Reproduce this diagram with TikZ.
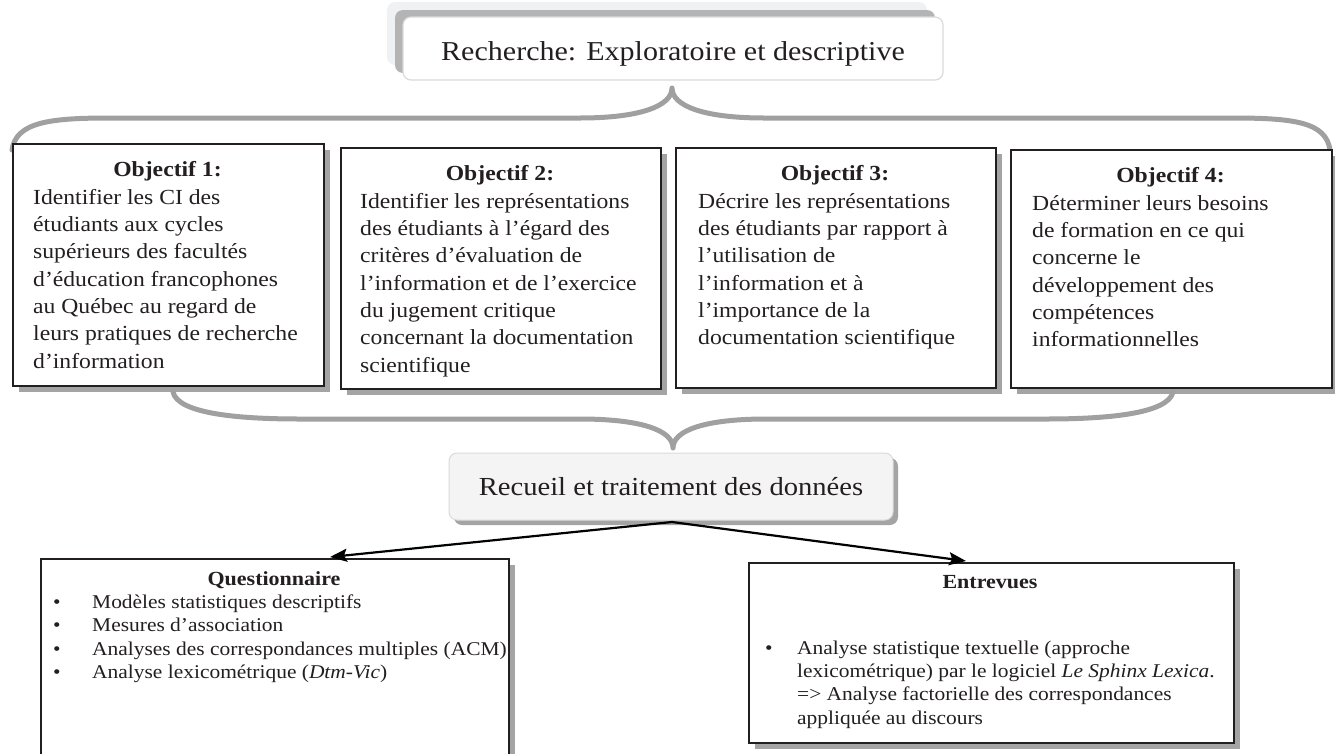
\documentclass[tikz,border=0pt]{standalone}
\usepackage{fontspec}
\setmainfont{Liberation Serif}[FakeStretch=1.1]
\usetikzlibrary{arrows.meta}
\definecolor{bracegray}{HTML}{A0A0A0}
\definecolor{shadowgray}{HTML}{A4A4A4}
\definecolor{txt}{HTML}{231F20}
\definecolor{paleback}{HTML}{F0F1F2}
\definecolor{midback}{HTML}{B4B4B4}
\definecolor{boxfill}{HTML}{F4F4F4}
\definecolor{lightedge}{HTML}{DADADA}
\begin{document}
\begin{tikzpicture}[x=1pt,y=-1pt,
  objbox/.style={draw=txt, line width=1.8pt, fill=white, inner sep=0, anchor=north west,
    preaction={fill=shadowgray, transform canvas={shift={(6pt,-6pt)}}}},
  topbox/.style={draw=lightedge, line width=1.2pt, fill=white, rounded corners=8pt, inner sep=0,
    preaction={fill=paleback, rounded corners=8pt, transform canvas={shift={(-16pt,15pt)}}},
    preaction={fill=midback, rounded corners=8pt, transform canvas={shift={(-8pt,7pt)}}}},
  midbox/.style={draw=lightedge, line width=1pt, fill=boxfill, rounded corners=8pt, inner sep=0,
    preaction={fill=shadowgray, rounded corners=8pt, transform canvas={shift={(5pt,-5pt)}}}},
  brace/.style={draw=bracegray, line width=5pt, line cap=round, line join=round},
  title/.style={font=\fontsize{21.5}{27.3}\selectfont\bfseries, anchor=base, inner sep=0, text=txt},
  body/.style={font=\fontsize{21.5}{27.3}\selectfont, align=left, anchor=north west, inner sep=0, text=txt},
  btitle/.style={font=\fontsize{20}{23.3}\selectfont\bfseries, anchor=base, inner sep=0, text=txt},
  bbody/.style={font=\fontsize{19.5}{23.3}\selectfont, align=left, anchor=north west, inner sep=0, text=txt},
  bigtext/.style={anchor=base, inner sep=0, text=txt},
  arr/.style={draw=black, line width=2.2pt, -{Stealth[length=17pt,width=13pt,inset=3pt]}}
]
\useasboundingbox (0,0) rectangle (1335,753);

% top box
\node[topbox, minimum width=540pt, minimum height=63pt] (rech) at (673,48.5) {};
\node[bigtext, font=\fontsize{27.3}{30}\selectfont] (rechtxt) at (673,60) {Recherche: Exploratoire et descriptive};

% top brace
\draw[brace] (12,150) .. controls (16,122) and (50,118) .. (110,118) -- (580,118)
  .. controls (640,118) and (672,106) .. (672,88)
  .. controls (672,106) and (704,118) .. (764,118) -- (1232,118)
  .. controls (1294,118) and (1326,122) .. (1330,150);

% objective boxes
\node[objbox, minimum width=311pt, minimum height=242pt] (o1) at (12,143) {};
\node[objbox, minimum width=320pt, minimum height=241pt] (o2) at (340,147) {};
\node[objbox, minimum width=320pt, minimum height=240pt] (o3) at (675,147) {};
\node[objbox, minimum width=321pt, minimum height=238pt] (o4) at (1010,149) {};

\node[title] (t1) at (167.5,176) {Objectif 1:};
\node[title] (t2) at (500,180) {Objectif 2:};
\node[title] (t3) at (835,180) {Objectif 3:};
\node[title] (t4) at (1170.5,182) {Objectif 4:};

\node[body] (b1) at (33,189) {Identifier les CI des\\
étudiants aux cycles\\
supérieurs des facultés\\
d’éducation francophones\\
au Québec au regard de\\
leurs pratiques de recherche\\
d’information};
\node[body] (b2) at (360,193) {Identifier les représentations\\
des étudiants à l’égard des\\
critères d’évaluation de\\
l’information et de l’exercice\\
du jugement critique\\
concernant la documentation\\
scientifique};
\node[body] (b3) at (698,193) {Décrire les représentations\\
des étudiants par rapport à\\
l’utilisation de\\
l’information et à\\
l’importance de la\\
documentation scientifique};
\node[body] (b4) at (1032,195) {Déterminer leurs besoins\\
de formation en ce qui\\
concerne le\\
développement des\\
compétences\\
informationnelles};

% bottom brace
\draw[brace] (173,392) .. controls (178,414) and (240,419) .. (300,419) -- (580,419)
  .. controls (640,419) and (673,430) .. (673,448)
  .. controls (673,430) and (706,419) .. (766,419) -- (1046,419)
  .. controls (1106,419) and (1168,414) .. (1173,392);

% recueil box
\node[midbox, minimum width=444pt, minimum height=67pt] (rec) at (671,486.5) {};
\node[bigtext, font=\fontsize{26}{30}\selectfont] (rectxt) at (671,495) {Recueil et traitement des données};

% bottom boxes
\node[objbox, minimum width=468pt, minimum height=220pt] (qbox) at (40,558) {};
\node[objbox, minimum width=485pt, minimum height=180pt] (ebox) at (748,562) {};

\coordinate (qa) at (330,557);
\coordinate (ea) at (966,561);
\coordinate (src) at (672,522);
\draw[arr] (src) -- (qa);
\draw[arr] (src) -- (ea);

\node[btitle] (qt) at (274,585) {Questionnaire};
\node[bbody] (qb) at (53,594.5) {\makebox[39pt][l]{•}Modèles statistiques descriptifs\\
\makebox[39pt][l]{•}Mesures d’association\\
\makebox[39pt][l]{•}Analyses des correspondances multiples (ACM)\\
\makebox[39pt][l]{•}Analyse lexicométrique (\textit{Dtm-Vic})};

\node[btitle] (et) at (990,588) {Entrevues};
\node[bbody] (eb) at (765,640.5) {\makebox[32pt][l]{•}Analyse statistique textuelle (approche\\
\hspace*{32pt}lexicométrique) par le logiciel \textit{Le Sphinx Lexica}.\\
\hspace*{32pt}=> Analyse factorielle des correspondances\\
\hspace*{32pt}appliquée au discours};
\end{tikzpicture}
\end{document}
